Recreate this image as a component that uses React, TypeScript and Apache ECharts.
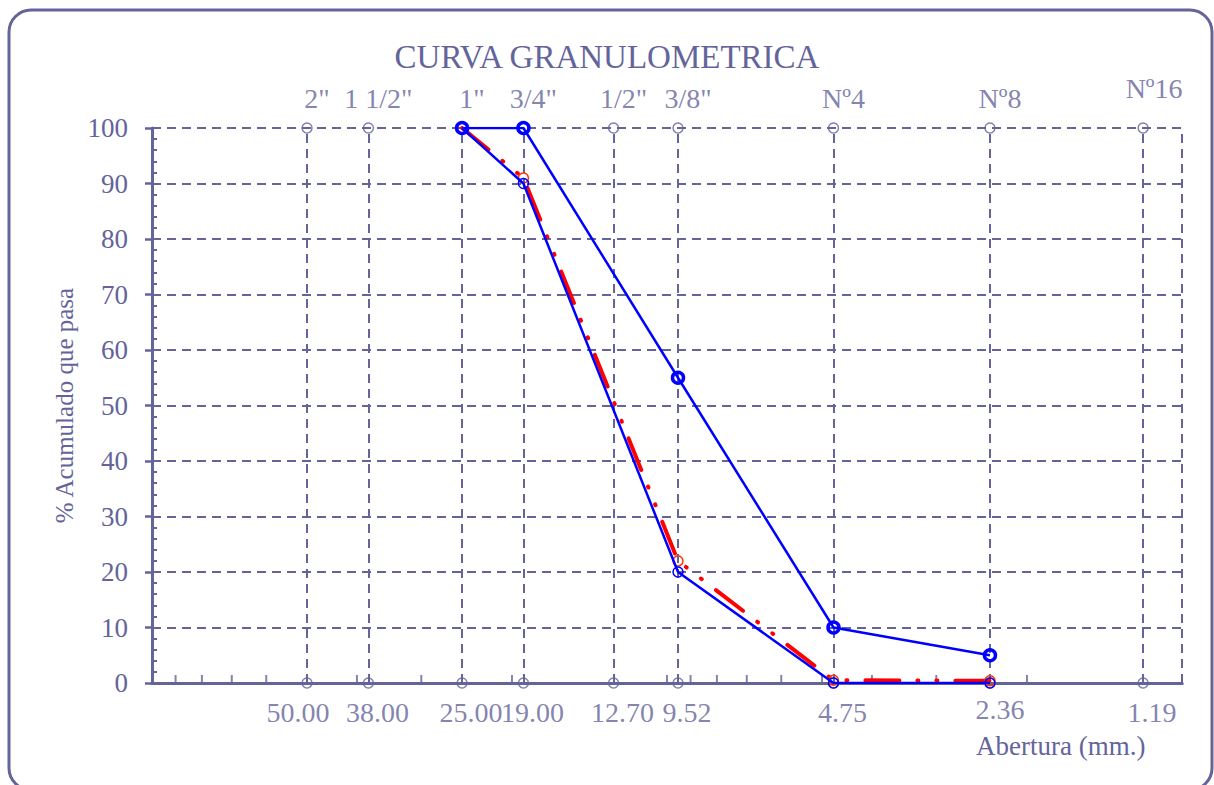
import React, { useEffect, useRef } from "react";
import * as echarts from "echarts";

const sieveSizes = [50.0, 38.0, 25.0, 19.0, 12.7, 9.52, 4.75, 2.36, 1.19];
const sieveNames = ['2"', '1 1/2"', '1"', '3/4"', '1/2"', '3/8"', "Nº4", "Nº8", "Nº16"];
const curveSizes = [25.0, 19.0, 9.52, 4.75, 2.36];
const upperLimit = [100, 100, 55, 10, 5];
const lowerLimit = [100, 90, 20, 0, 0];
const samplePassing = [100, 91, 22, 0.5, 0.4];
const minorTickValues = [2, 3, 4, 5, 6, 7, 8, 9, 10, 20, 30, 40, 60, 70, 80, 90];
const xMin = 1;
const xMax = 100;

const INK = "#64649a";
const FONT = "Liberation Serif";

export default function App() {
  const ref = useRef<HTMLDivElement>(null);

  useEffect(() => {
    if (!ref.current) return;
    const chart = echarts.init(ref.current, undefined, { renderer: "svg" });

    const logAxisBase = {
      type: "log",
      logBase: 10,
      min: xMin,
      max: xMax,
      inverse: true,
      axisLine: { show: true, lineStyle: { color: INK, width: 3 } },
      axisTick: { show: false },
      axisLabel: { show: false },
      splitLine: { show: false },
      minorTick: { show: false },
    };

    const topData = sieveSizes.map((s, i) =>
      i === sieveSizes.length - 1 ? { value: [s, 100], label: { offset: [11, -10] } } : { value: [s, 100] }
    );
    const bottomData = sieveSizes.map((s, i) =>
      i === 0
        ? { value: [s, 0], label: { offset: [-9, 0] } }
        : i === sieveSizes.length - 2
        ? { value: [s, 0], label: { offset: [10, -3] } }
        : { value: [s, 0] }
    );

    const option = {
      animation: false,
      backgroundColor: "#ffffff",
      title: {
        text: "CURVA GRANULOMETRICA",
        left: "center",
        top: 35,
        textStyle: { fontSize: 33, fontWeight: "normal", fontFamily: FONT, color: INK },
      },
      grid: { left: 152, right: 32, top: 128, bottom: 102 },
      xAxis: [
        { ...logAxisBase, position: "bottom" },
        { ...logAxisBase, position: "top" },
      ],
      yAxis: [
        {
          type: "value",
          min: 0,
          max: 100,
          interval: 10,
          position: "left",
          name: "% Acumulado que pasa",
          nameLocation: "middle",
          nameRotate: 90,
          nameGap: 72,
          nameTextStyle: { fontSize: 25, fontFamily: FONT, color: INK },
          axisLine: { show: true, lineStyle: { color: INK, width: 3 } },
          axisTick: { show: true, inside: false, length: 7, lineStyle: { color: INK, width: 2.5 } },
          axisLabel: { fontSize: 27, fontFamily: FONT, color: INK, margin: 24 },
          splitLine: { show: true, lineStyle: { color: INK, width: 2, type: [9, 6] } },
        },
        {
          type: "value",
          min: 0,
          max: 100,
          interval: 2,
          position: "left",
          axisLine: { show: false },
          axisTick: { show: true, inside: true, length: 5, lineStyle: { color: INK, width: 2 } },
          axisLabel: { show: false },
          splitLine: { show: false },
        },
      ],
      graphic: [
        {
          type: "rect",
          shape: { x: 9, y: 10, width: 1203, height: 780, r: 22 },
          style: { fill: "none", stroke: INK, lineWidth: 3 },
          silent: true,
          z: 0,
        },
        {
          type: "text",
          x: 976,
          y: 732,
          style: { text: "Abertura (mm.)", fontSize: 27, fontFamily: FONT, fill: INK, textVerticalAlign: "top" },
        },
      ],
      series: [
        {
          name: "grid-top",
          type: "scatter",
          symbol: "circle",
          symbolSize: 10,
          itemStyle: { color: "rgba(255,255,255,0)", borderColor: INK, borderWidth: 1.5 },
          data: topData,
          label: {
            show: true,
            position: "top",
            distance: 10,
            offset: [10, 0],
            fontSize: 28,
            fontFamily: FONT,
            color: INK,
            formatter: (p: any) => sieveNames[p.dataIndex],
          },
          silent: true,
          z: 2,
          markLine: {
            silent: true,
            symbol: "none",
            label: { show: false },
            lineStyle: { color: INK, width: 2, type: [9, 6] },
            data: [...sieveSizes, xMin].map((v) => ({ xAxis: v })),
            z: 1,
          },
        },
        {
          name: "grid-bottom",
          type: "scatter",
          symbol: "circle",
          symbolSize: 10,
          itemStyle: { color: "rgba(255,255,255,0)", borderColor: INK, borderWidth: 1.5 },
          data: bottomData,
          label: {
            show: true,
            position: "bottom",
            distance: 10,
            offset: [9, 0],
            fontSize: 28,
            fontFamily: FONT,
            color: INK,
            formatter: (p: any) => Number(p.value[0]).toFixed(2),
          },
          silent: true,
          z: 2,
        },
        {
          name: "minor-ticks",
          type: "scatter",
          symbol: "rect",
          symbolSize: [2, 8],
          symbolOffset: [0, -4],
          itemStyle: { color: INK },
          data: minorTickValues.map((v) => [v, 0]),
          silent: true,
          z: 2,
        },
        {
          name: "Muestra",
          type: "line",
          data: curveSizes.map((s, i) => [s, samplePassing[i]]),
          symbol: "circle",
          symbolSize: 10,
          itemStyle: { color: "rgba(255,255,255,0)", borderColor: "#ff3300", borderWidth: 1.5 },
          lineStyle: { color: "#ff0000", width: 4, type: [34, 18, 1, 18, 1, 18], cap: "round" },
          z: 3,
        },
        {
          name: "Límite inferior",
          type: "line",
          data: curveSizes.map((s, i) => [s, lowerLimit[i]]),
          symbol: "circle",
          symbolSize: 10,
          itemStyle: { color: "rgba(255,255,255,0)", borderColor: "#0000ff", borderWidth: 1.5 },
          lineStyle: { color: "#0000ff", width: 2.5 },
          z: 4,
        },
        {
          name: "Límite superior",
          type: "line",
          data: curveSizes.map((s, i) => [s, upperLimit[i]]),
          symbol: "circle",
          symbolSize: 11,
          itemStyle: { color: "rgba(255,255,255,0)", borderColor: "#0000ff", borderWidth: 3.5 },
          lineStyle: { color: "#0000ff", width: 2.5 },
          z: 5,
        },
      ],
    };

    chart.setOption(option as any);
    return () => chart.dispose();
  }, []);

  return (
    <div
      ref={ref}
      style={{ position: "absolute", left: 0, top: 0, width: 1214, height: 785, background: "#fff" }}
    />
  );
}
